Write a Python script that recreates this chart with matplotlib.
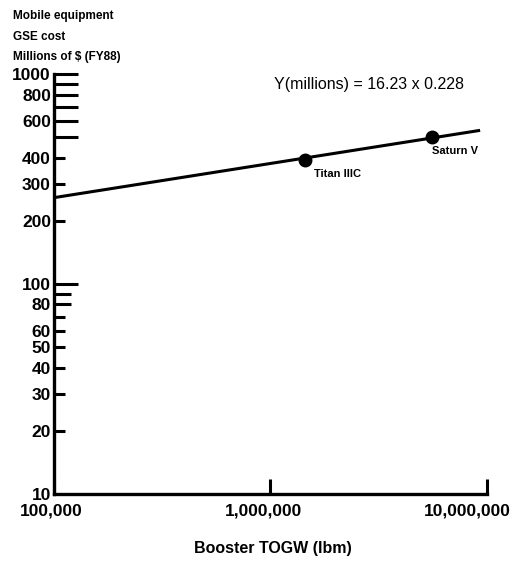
import numpy as np
import matplotlib.pyplot as plt
from matplotlib.transforms import ScaledTranslation

plt.rcParams['font.family'] = ['Liberation Sans', 'DejaVu Sans']

# fitted cost line, drawn between its two end points
fit_togw = [1.0e5, 9.3e6]
fit_cost = [258, 540]

# vehicles on the curve
vehicles = ['Titan IIIC', 'Saturn V']
veh_togw = [1.45e6, 5.6e6]
veh_cost = [391, 503]

y_labeled = [1000, 800, 600, 400, 300, 200, 100, 80, 60, 50, 40, 30, 20, 10]
y_long = [1000, 900, 800, 700, 600, 500, 100]
y_mid = [90, 80]
y_short = [400, 300, 200, 70, 60, 50, 40, 30, 20]
x_ticks = [1e5, 1e6, 1e7]
x_labels = ['100,000', '1,000,000', '10,000,000']

fig = plt.figure(figsize=(5.27, 5.62), dpi=100)
ax = fig.add_axes([0.102, 0.121, 0.822, 0.747])
ax.set_xscale('log')
ax.set_yscale('log')
ax.set_xlim(1e5, 1e7)
ax.set_ylim(10, 1000)

ax.plot(fit_togw, fit_cost, color='black', lw=2.2, solid_capstyle='butt')
ax.plot(veh_togw, veh_cost, 'o', color='black', ms=9)
ax.text(veh_togw[0] * 1.1, veh_cost[0] * 0.9, vehicles[0], fontsize=8,
        fontweight='bold', va='top', ha='left')
ax.text(veh_togw[1] * 1.0, veh_cost[1] * 0.9, vehicles[1], fontsize=8,
        fontweight='bold', va='top', ha='left')

for s in ['top', 'right']:
    ax.spines[s].set_visible(False)
for s in ['left', 'bottom']:
    ax.spines[s].set_linewidth(2.4)

# y ticks: labels on the left, marks of three lengths on the inside
ax.set_yticks(y_labeled)
ax.set_yticklabels([str(v) for v in y_labeled])
ax.yaxis.set_minor_locator(plt.NullLocator())
ax.tick_params(axis='y', which='major', length=0, pad=2, labelsize=12.5)
for vals, ln in [(y_long, 17), (y_mid, 12), (y_short, 8)]:
    sec = ax.secondary_yaxis('left')
    sec.set_yticks(vals)
    sec.yaxis.set_minor_locator(plt.NullLocator())
    sec.tick_params(axis='y', direction='in', length=ln, width=2.2, labelleft=False)
    sec.spines['left'].set_visible(False)

ax.set_xticks(x_ticks)
ax.set_xticklabels(x_labels)
ax.xaxis.set_minor_locator(plt.NullLocator())
ax.tick_params(axis='x', direction='in', length=11, width=2.2, pad=7, labelsize=12.5)
shifts = [-3, -7, -20]
for lab, dx in zip(ax.get_xticklabels(), shifts):
    lab.set_fontweight('bold')
    lab.set_transform(lab.get_transform() + ScaledTranslation(dx / 100, 0, fig.dpi_scale_trans))
for lab in ax.get_yticklabels():
    lab.set_fontweight('bold')

ax.set_xlabel('Booster TOGW (lbm)', fontsize=11.5, fontweight='bold')
ax.xaxis.set_label_coords(0.505, -0.113)

fig.text(0.024, 0.972, 'Mobile equipment', fontsize=8.5, fontweight='bold', va='center')
fig.text(0.024, 0.934, 'GSE cost', fontsize=8.5, fontweight='bold', va='center')
fig.text(0.024, 0.899, 'Millions of $ (FY88)', fontsize=8.5, fontweight='bold', va='center')
fig.text(0.52, 0.849, 'Y(millions) = 16.23 x 0.228', fontsize=11.5, va='center')

fig.savefig('out.png', dpi=100)
